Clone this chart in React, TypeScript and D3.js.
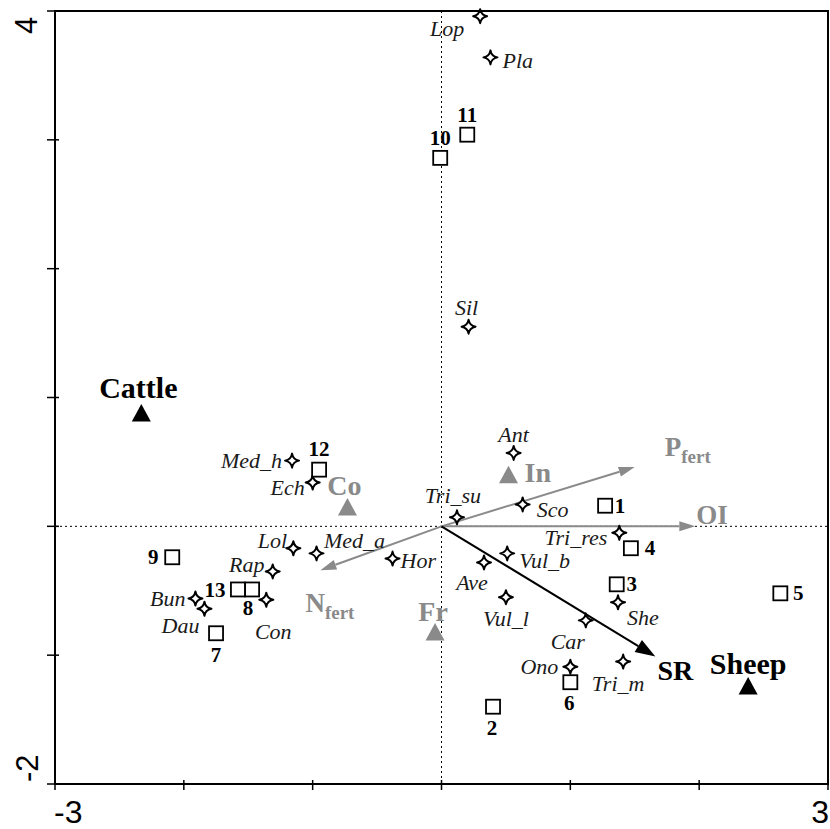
import * as d3 from "d3";

// ordination scores
const siteNames = ["1", "2", "3", "4", "5", "6", "7", "8", "9", "10", "11", "12", "13"];
const siteX = [1.27, 0.4, 1.36, 1.47, 2.63, 1.0, -1.75, -1.47, -2.09, -0.01, 0.2, -0.95, -1.58];
const siteY = [0.16, -1.4, -0.45, -0.17, -0.52, -1.21, -0.83, -0.49, -0.24, 2.86, 3.04, 0.44, -0.49];

const speciesNames = ["Lop", "Pla", "Sil", "Ant", "Tri_su", "Sco", "Tri_res", "Vul_b", "Ave", "Vul_l", "Car", "She", "Ono", "Tri_m", "Hor", "Med_a", "Lol", "Rap", "Con", "Bun", "Dau", "Med_h", "Ech"];
const speciesX = [0.3, 0.38, 0.21, 0.56, 0.12, 0.63, 1.38, 0.51, 0.33, 0.5, 1.12, 1.37, 1.0, 1.41, -0.38, -0.97, -1.15, -1.31, -1.36, -1.91, -1.84, -1.16, -1.0];
const speciesY = [3.96, 3.64, 1.55, 0.57, 0.07, 0.17, -0.05, -0.21, -0.28, -0.55, -0.73, -0.59, -1.09, -1.05, -0.25, -0.21, -0.17, -0.35, -0.57, -0.56, -0.64, 0.51, 0.34];

const treatNames = ["Cattle", "Sheep", "Co", "In", "Fr"];
const treatX = [-2.33, 2.38, -0.73, 0.52, -0.05];
const treatY = [0.88, -1.24, 0.15, 0.4, -0.82];
const treatGrey = [false, false, true, true, true];

const vecNames = ["P", "OI", "N", "SR"];
const vecSub = ["fert", "", "fert", ""];
const vecX = [1.5, 1.97, -0.94, 1.66];
const vecY = [0.46, 0.0, -0.34, -1.01];
const vecGrey = [true, true, true, false];

const xTicks = [-3, -2, -1, 0, 1, 2, 3];
const yTicks = [-2, -1, 0, 1, 2, 3, 4];

// label placement (pixels from the marker: dx, dy to text centre, anchor)
const speciesLabel: Record<string, [number, number, string]> = {
  Lop: [-33, 12, "middle"], Pla: [12, 3, "start"], Sil: [-2, -19, "middle"], Ant: [0, -18, "middle"],
  Tri_su: [-4, -22, "middle"], Sco: [14, 5, "start"], Tri_res: [-12, 5, "end"], Vul_b: [12, 7, "start"],
  Ave: [-12, 20, "middle"], Vul_l: [0, 21, "middle"], Car: [-18, 21, "middle"], She: [25, 15, "middle"],
  Ono: [-12, 0, "end"], Tri_m: [-5, 22, "middle"], Hor: [8, 2, "start"], Med_a: [38, -13, "middle"],
  Lol: [-21, -8, "middle"], Rap: [-26, -7, "middle"], Con: [7, 32, "middle"], Bun: [-10, 0, "end"],
  Dau: [-24, 17, "middle"], Med_h: [-10, 0, "end"], Ech: [-8, 5, "end"],
};
const siteLabel: Record<string, [number, number, string]> = {
  "1": [15, 0, "middle"], "2": [-1, 21, "middle"], "3": [15, 0, "middle"], "4": [19, 0, "middle"],
  "5": [18, 0, "middle"], "6": [-1, 21, "middle"], "7": [0, 22, "middle"], "8": [-4, 18, "middle"],
  "9": [-19, 0, "middle"], "10": [0, -20, "middle"], "11": [0, -20, "middle"], "12": [0, -21, "middle"],
  "13": [-23, 0, "middle"],
};
const treatLabel: Record<string, [number, number, string]> = {
  Cattle: [-3, -25, "middle"], Sheep: [0, -22, "middle"], Co: [-3, -22, "middle"], In: [16, -2, "start"], Fr: [-2, -20, "middle"],
};
const vecLabel: Record<string, [number, number, string]> = {
  P: [30, -20, "start"], OI: [1, -12, "start"], N: [-15, 33, "start"], SR: [20, 14, "middle"],
};

const GREY = "#8a8a8a";
const SERIF = "'Liberation Serif', 'Times New Roman', serif";
const SANS = "'Liberation Sans', Arial, sans-serif";

const x = d3.scaleLinear().domain([-3, 3]).range([55, 828]);
const y = d3.scaleLinear().domain([-2, 4]).range([784, 11]);

// four-pointed star with concave sides
const starPath = "M0,-7Q1,-1 7,0Q1,1 0,7Q-1,1 -7,0Q-1,-1 0,-7Z";
const triPath = "M0,-9L9.5,8.5L-9.5,8.5Z";

function arrow(vx: number, vy: number, headLen: number, headW: number) {
  const ox = x(0), oy = y(0);
  const tx = x(vx), ty = y(vy);
  const len = Math.hypot(tx - ox, ty - oy);
  const ux = (tx - ox) / len, uy = (ty - oy) / len;
  const bx = tx - ux * headLen, by = ty - uy * headLen;
  const head = `M${tx},${ty}L${bx - uy * headW},${by + ux * headW}L${bx + uy * headW},${by - ux * headW}Z`;
  return { ox, oy, bx, by, head, tx, ty };
}

export default function App() {
  const [x0, x1] = x.range();
  const [y0, y1] = y.range();
  return (
    <svg width={830} height={829} style={{ position: "absolute", left: 0, top: 0, background: "#fff" }}>
      <rect x={0} y={0} width={830} height={829} fill="#fff" />
      {/* zero lines */}
      <line x1={x(0)} x2={x(0)} y1={y1} y2={y0} stroke="#000" strokeWidth={1} strokeDasharray="2,3" />
      <line x1={x0} x2={x1} y1={y(0)} y2={y(0)} stroke="#000" strokeWidth={1} strokeDasharray="2,3" />

      {/* frame and ticks */}
      <rect x={x0} y={y1} width={x1 - x0} height={y0 - y1} fill="none" stroke="#000" strokeWidth={2} />
      {xTicks.map((t) => (
        <line key={"xt" + t} x1={x(t)} x2={x(t)} y1={y0 - 4} y2={y0 + 6} stroke="#000" strokeWidth={1.5} />
      ))}
      {yTicks.map((t) => (
        <line key={"yt" + t} x1={x0 - 8} x2={x0 + 4} y1={y(t)} y2={y(t)} stroke="#000" strokeWidth={1.5} />
      ))}
      <text x={54} y={823} fontFamily={SANS} fontSize={32} textAnchor="start">-3</text>
      <text x={829} y={823} fontFamily={SANS} fontSize={32} textAnchor="end">3</text>
      <text transform="translate(37,34) rotate(-90)" fontFamily={SANS} fontSize={31} textAnchor="start">4</text>
      <text transform="translate(38,782) rotate(-90)" fontFamily={SANS} fontSize={31} textAnchor="start">-2</text>

      {/* environmental vectors */}
      {vecNames.map((n, i) => {
        const grey = vecGrey[i];
        const a = arrow(vecX[i], vecY[i], grey ? 16 : 20, grey ? 5 : 7);
        const col = grey ? GREY : "#000";
        const [dx, dy, anchor] = vecLabel[n];
        const fs = grey ? 27 : 28;
        return (
          <g key={"v" + n}>
            <line x1={a.ox} y1={a.oy} x2={a.bx} y2={a.by} stroke={col} strokeWidth={2} />
            <path d={a.head} fill={col} />
            <text x={a.tx + dx} y={a.ty + dy + fs * 0.34} fill={col} fontFamily={SERIF} fontWeight="bold" fontSize={fs} textAnchor={anchor}>
              {n}
              {vecSub[i] && <tspan fontSize={19} dy={7}>{vecSub[i]}</tspan>}
            </text>
          </g>
        );
      })}

      {/* treatments */}
      {treatNames.map((n, i) => {
        const col = treatGrey[i] ? GREY : "#000";
        const px = x(treatX[i]), py = y(treatY[i]);
        const [dx, dy, anchor] = treatLabel[n];
        const fs = treatGrey[i] ? 28 : 30;
        return (
          <g key={"t" + n}>
            <path d={triPath} transform={`translate(${px},${py})`} fill={col} />
            <text x={px + dx} y={py + dy + fs * 0.34} fill={col} fontFamily={SERIF} fontWeight="bold" fontSize={fs} textAnchor={anchor}>{n}</text>
          </g>
        );
      })}

      {/* species */}
      {speciesNames.map((n, i) => {
        const px = x(speciesX[i]), py = y(speciesY[i]);
        const [dx, dy, anchor] = speciesLabel[n];
        return (
          <g key={"s" + n}>
            <path d={starPath} transform={`translate(${px},${py})`} fill="#fff" stroke="#000" strokeWidth={2} strokeLinejoin="round" />
            <text x={px + dx} y={py + dy + 22 * 0.34} fill="#1a1a1a" fontFamily={SERIF} fontStyle="italic" fontSize={22} textAnchor={anchor}>{n}</text>
          </g>
        );
      })}

      {/* sites */}
      {siteNames.map((n, i) => {
        const px = x(siteX[i]), py = y(siteY[i]);
        const [dx, dy, anchor] = siteLabel[n];
        return (
          <g key={"p" + n}>
            <rect x={px - 7} y={py - 7} width={14} height={14} fill="#fff" stroke="#000" strokeWidth={1.8} />
            <text x={px + dx} y={py + dy + 21 * 0.34} fill="#000" fontFamily={SERIF} fontWeight="bold" fontSize={21} textAnchor={anchor}>{n}</text>
          </g>
        );
      })}
    </svg>
  );
}
